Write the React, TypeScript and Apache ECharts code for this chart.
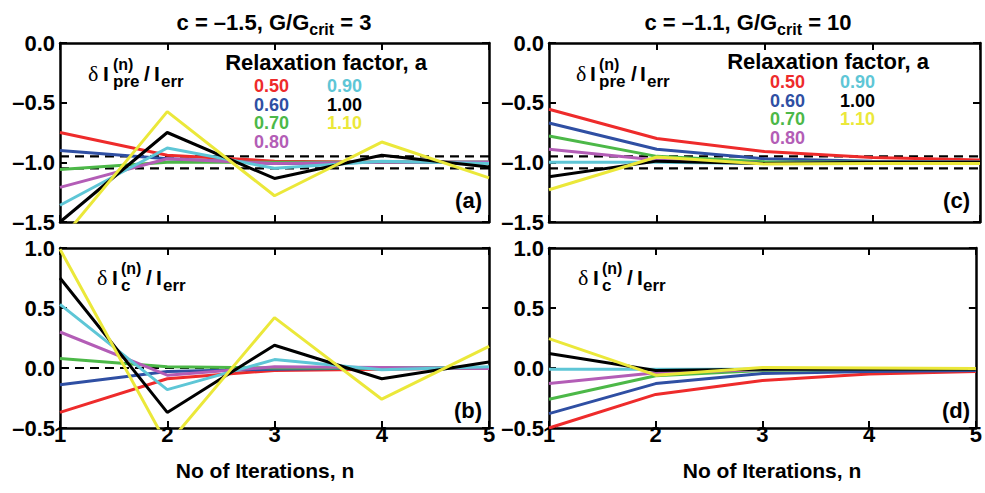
import React, { useEffect, useRef } from 'react';
import * as echarts from 'echarts';

// ---------- data ----------
const iterations = [1, 2, 3, 4, 5];
const factors = ['0.50', '0.60', '0.70', '0.80', '0.90', '1.00', '1.10'];
const lineColors = ['#ee2b2b', '#2f4fa3', '#4cb848', '#b35db6', '#5ec6d6', '#000000', '#ebe83a'];

// (a) δI_pre / I_err, c = −1.5, G/Gcrit = 3 (rows follow factors)
const preLeft = [
  [-0.75, -0.94, -0.99, -1.0, -1.0],
  [-0.9, -0.97, -1.01, -1.0, -1.0],
  [-1.06, -1.0, -1.0, -1.0, -1.0],
  [-1.21, -0.97, -1.01, -1.0, -1.0],
  [-1.36, -0.88, -1.05, -0.99, -1.01],
  [-1.5, -0.75, -1.135, -0.94, -1.04],
  [-1.66, -0.575, -1.28, -0.83, -1.13],
];
// (b) δI_c / I_err, c = −1.5
const curLeft = [
  [-0.37, -0.09, -0.02, -0.01, 0.0],
  [-0.14, -0.03, -0.01, 0.0, 0.0],
  [0.08, 0.01, 0.0, 0.0, 0.0],
  [0.3, -0.06, 0.01, 0.005, -0.005],
  [0.53, -0.18, 0.07, -0.015, 0.01],
  [0.75, -0.37, 0.19, -0.09, 0.05],
  [0.99, -0.64, 0.42, -0.26, 0.18],
];
// (c) δI_pre / I_err, c = −1.1, G/Gcrit = 10
const preRight = [
  [-0.555, -0.8, -0.91, -0.96, -0.98],
  [-0.67, -0.89, -0.97, -0.99, -1.0],
  [-0.78, -0.95, -0.995, -1.0, -1.0],
  [-0.89, -0.98, -1.01, -1.0, -1.0],
  [-1.0, -1.0, -1.01, -1.0, -1.0],
  [-1.12, -0.99, -1.01, -1.0, -1.0],
  [-1.23, -0.955, -1.015, -1.01, -1.01],
];
// (d) δI_c / I_err, c = −1.1
const curRight = [
  [-0.5, -0.22, -0.105, -0.05, -0.03],
  [-0.38, -0.13, -0.045, -0.03, -0.02],
  [-0.26, -0.065, -0.02, -0.01, -0.01],
  [-0.13, -0.04, -0.015, -0.01, -0.01],
  [-0.01, -0.01, -0.01, -0.01, -0.01],
  [0.12, -0.02, -0.01, -0.01, -0.01],
  [0.245, -0.06, 0.005, 0.0, -0.005],
];

const preBand = [-0.95, -1.05];
const curBand = [0];
const titleC = ['–1.5', '–1.1'];
const titleG = ['3', '10'];
const panelLetters = ['(a)', '(b)', '(c)', '(d)'];
const xAxisName = 'No of Iterations, n';
const legendTitle = 'Relaxation factor, a';

// ---------- layout ----------
const FONT = '"Liberation Sans", Arial, Helvetica, sans-serif';
const SERIF = '"Liberation Serif", "Times New Roman", serif';

const panels = [
  { grid: { left: 60, top: 43, width: 429, height: 179 }, data: preLeft, yMin: -1.5, yMax: 0, band: preBand, showX: false },
  { grid: { left: 60, top: 248, width: 429, height: 180 }, data: curLeft, yMin: -0.5, yMax: 1, band: curBand, showX: true },
  { grid: { left: 549, top: 43, width: 431, height: 179 }, data: preRight, yMin: -1.5, yMax: 0, band: preBand, showX: false },
  { grid: { left: 549, top: 248, width: 431, height: 180 }, data: curRight, yMin: -0.5, yMax: 1, band: [] as number[], showX: true },
];

const frameLine = { show: true, onZero: false, lineStyle: { color: '#000', width: 2.5 } };
const innerTick = { show: true, inside: true, length: 7, lineStyle: { color: '#000', width: 2 } };
const tickFont = { fontSize: 22, fontWeight: 'bold' as const, fontFamily: FONT, color: '#000' };

function txt(text: string, x: number, y: number, size: number, opts: any = {}) {
  const align = opts.align || 'left';
  const valign = opts.valign || 'middle';
  const style: any = {
    text,
    fill: opts.color || '#000',
    fontSize: size,
    fontWeight: opts.weight || 'bold',
    fontFamily: opts.family || FONT,
    align,
    verticalAlign: valign,
    textAlign: align,
    textVerticalAlign: valign,
  };
  if (opts.lineHeight) style.lineHeight = opts.lineHeight;
  return { type: 'text', x, y, silent: true, style };
}

function quantityLabel(x0: number, base: number, sub: string, offs: number[]) {
  const [dI, dSub, dSlash, dI2, dErr] = offs;
  return [
    txt('δ', x0, base - 7.4, 22, { family: SERIF, weight: 'normal' }),
    txt('I', x0 + dI, base - 7.3, 21),
    txt('(n)', x0 + dSub, base - 17, 16, { lineHeight: 16 }),
    txt(sub, x0 + dSub, base + 0.5, 17, { lineHeight: 16 }),
    txt('/', x0 + dSlash, base - 7.3, 21),
    txt('I', x0 + dI2, base - 7.3, 21),
    txt('err', x0 + dErr, base + 0.5, 17, { lineHeight: 16 }),
  ];
}

function titleText(i: number, x: number, y: number) {
  const base = { fontSize: 22, fontWeight: 'bold', fontFamily: FONT, fill: '#000', color: '#000' };
  return {
    type: 'text',
    x,
    y,
    silent: true,
    style: {
      text: `{m|c = ${titleC[i]}, G/G}{s|crit}{m| = ${titleG[i]}}`,
      rich: {
        m: base,
        s: { ...base, fontSize: 16, padding: [14, 0, 0, 0] },
      },
      align: 'center',
      verticalAlign: 'middle',
      textAlign: 'center',
      textVerticalAlign: 'middle',
    },
  };
}

function legendBlock(cx: number, ty: number, colX: number[], rowY: number[]) {
  const els: any[] = [txt(legendTitle, cx, ty, 22, { align: 'center' })];
  factors.forEach((f, i) => {
    const col = i < 4 ? 0 : 1;
    const row = i < 4 ? i : i - 4;
    els.push(txt(f, colX[col], rowY[row], 18, { color: lineColors[i], lineHeight: 16 }));
  });
  return els;
}

function buildOption() {
  const xAxis: any[] = [];
  const yAxis: any[] = [];
  const series: any[] = [];
  panels.forEach((p, i) => {
    xAxis.push({
      type: 'value', gridIndex: i, min: 1, max: 5, interval: 1, position: 'bottom',
      axisLine: frameLine, axisTick: innerTick, splitLine: { show: false },
      axisLabel: p.showX ? { show: true, margin: -5, ...tickFont } : { show: false },
    });
    xAxis.push({
      type: 'value', gridIndex: i, min: 1, max: 5, interval: 1, position: 'top',
      axisLine: frameLine, axisTick: innerTick, splitLine: { show: false }, axisLabel: { show: false },
    });
    yAxis.push({
      type: 'value', gridIndex: i, min: p.yMin, max: p.yMax, interval: 0.5, position: 'left',
      axisLine: frameLine, axisTick: innerTick, splitLine: { show: false },
      axisLabel: {
        show: true, margin: 5, ...tickFont,
        formatter: (v: number) => v.toFixed(1).replace('-', '–'),
      },
    });
    yAxis.push({
      type: 'value', gridIndex: i, min: p.yMin, max: p.yMax, interval: 0.5, position: 'right',
      axisLine: frameLine, axisTick: innerTick, splitLine: { show: false }, axisLabel: { show: false },
    });
    p.band.forEach((lvl) => {
      series.push({
        type: 'line', xAxisIndex: 2 * i, yAxisIndex: 2 * i, z: 1, silent: true,
        data: [[iterations[0], lvl], [iterations[iterations.length - 1], lvl]],
        symbol: 'none', lineStyle: { color: '#000', width: 2.2, type: [9, 6] },
      });
    });
    p.data.forEach((vals, k) => {
      series.push({
        type: 'line', name: factors[k], xAxisIndex: 2 * i, yAxisIndex: 2 * i, z: 2,
        data: iterations.map((x, j) => [x, vals[j]]),
        symbol: 'none', clip: true,
        lineStyle: { color: lineColors[k], width: 3 },
      });
    });
  });

  const graphic: any[] = [
    titleText(0, 274, 22),
    titleText(1, 748, 22),
    ...legendBlock(326, 62, [254, 327], [86, 104.5, 123, 141.5]),
    ...legendBlock(828, 61, [770, 840], [82, 100.5, 119, 137.5]),
    ...quantityLabel(88, 81, 'pre', [15, 25, 56, 66, 73]),
    ...quantityLabel(576, 81, 'pre', [14, 23, 55, 64, 71]),
    ...quantityLabel(97, 285, 'c', [15, 24, 49, 59, 66]),
    ...quantityLabel(578, 285, 'c', [15, 24, 49, 59, 65]),
    txt(panelLetters[0], 482, 200, 22, { align: 'right' }),
    txt(panelLetters[1], 482, 410, 22, { align: 'right' }),
    txt(panelLetters[2], 970, 200, 22, { align: 'right' }),
    txt(panelLetters[3], 970, 410, 22, { align: 'right' }),
    txt(xAxisName, 265, 470, 21, { align: 'center' }),
    txt(xAxisName, 772, 470, 21, { align: 'center' }),
  ];

  return {
    animation: false,
    backgroundColor: '#ffffff',
    grid: panels.map((p) => ({ ...p.grid, containLabel: false })),
    xAxis,
    yAxis,
    series,
    graphic,
  };
}

export default function App() {
  const ref = useRef<HTMLDivElement>(null);
  useEffect(() => {
    document.body.style.margin = '0';
    if (!ref.current) return;
    const chart = echarts.init(ref.current, undefined, { renderer: 'svg' });
    chart.setOption(buildOption() as any);
    return () => chart.dispose();
  }, []);
  return (
    <div
      ref={ref}
      style={{ position: 'absolute', left: 0, top: 0, width: 985, height: 493, background: '#fff' }}
    />
  );
}
